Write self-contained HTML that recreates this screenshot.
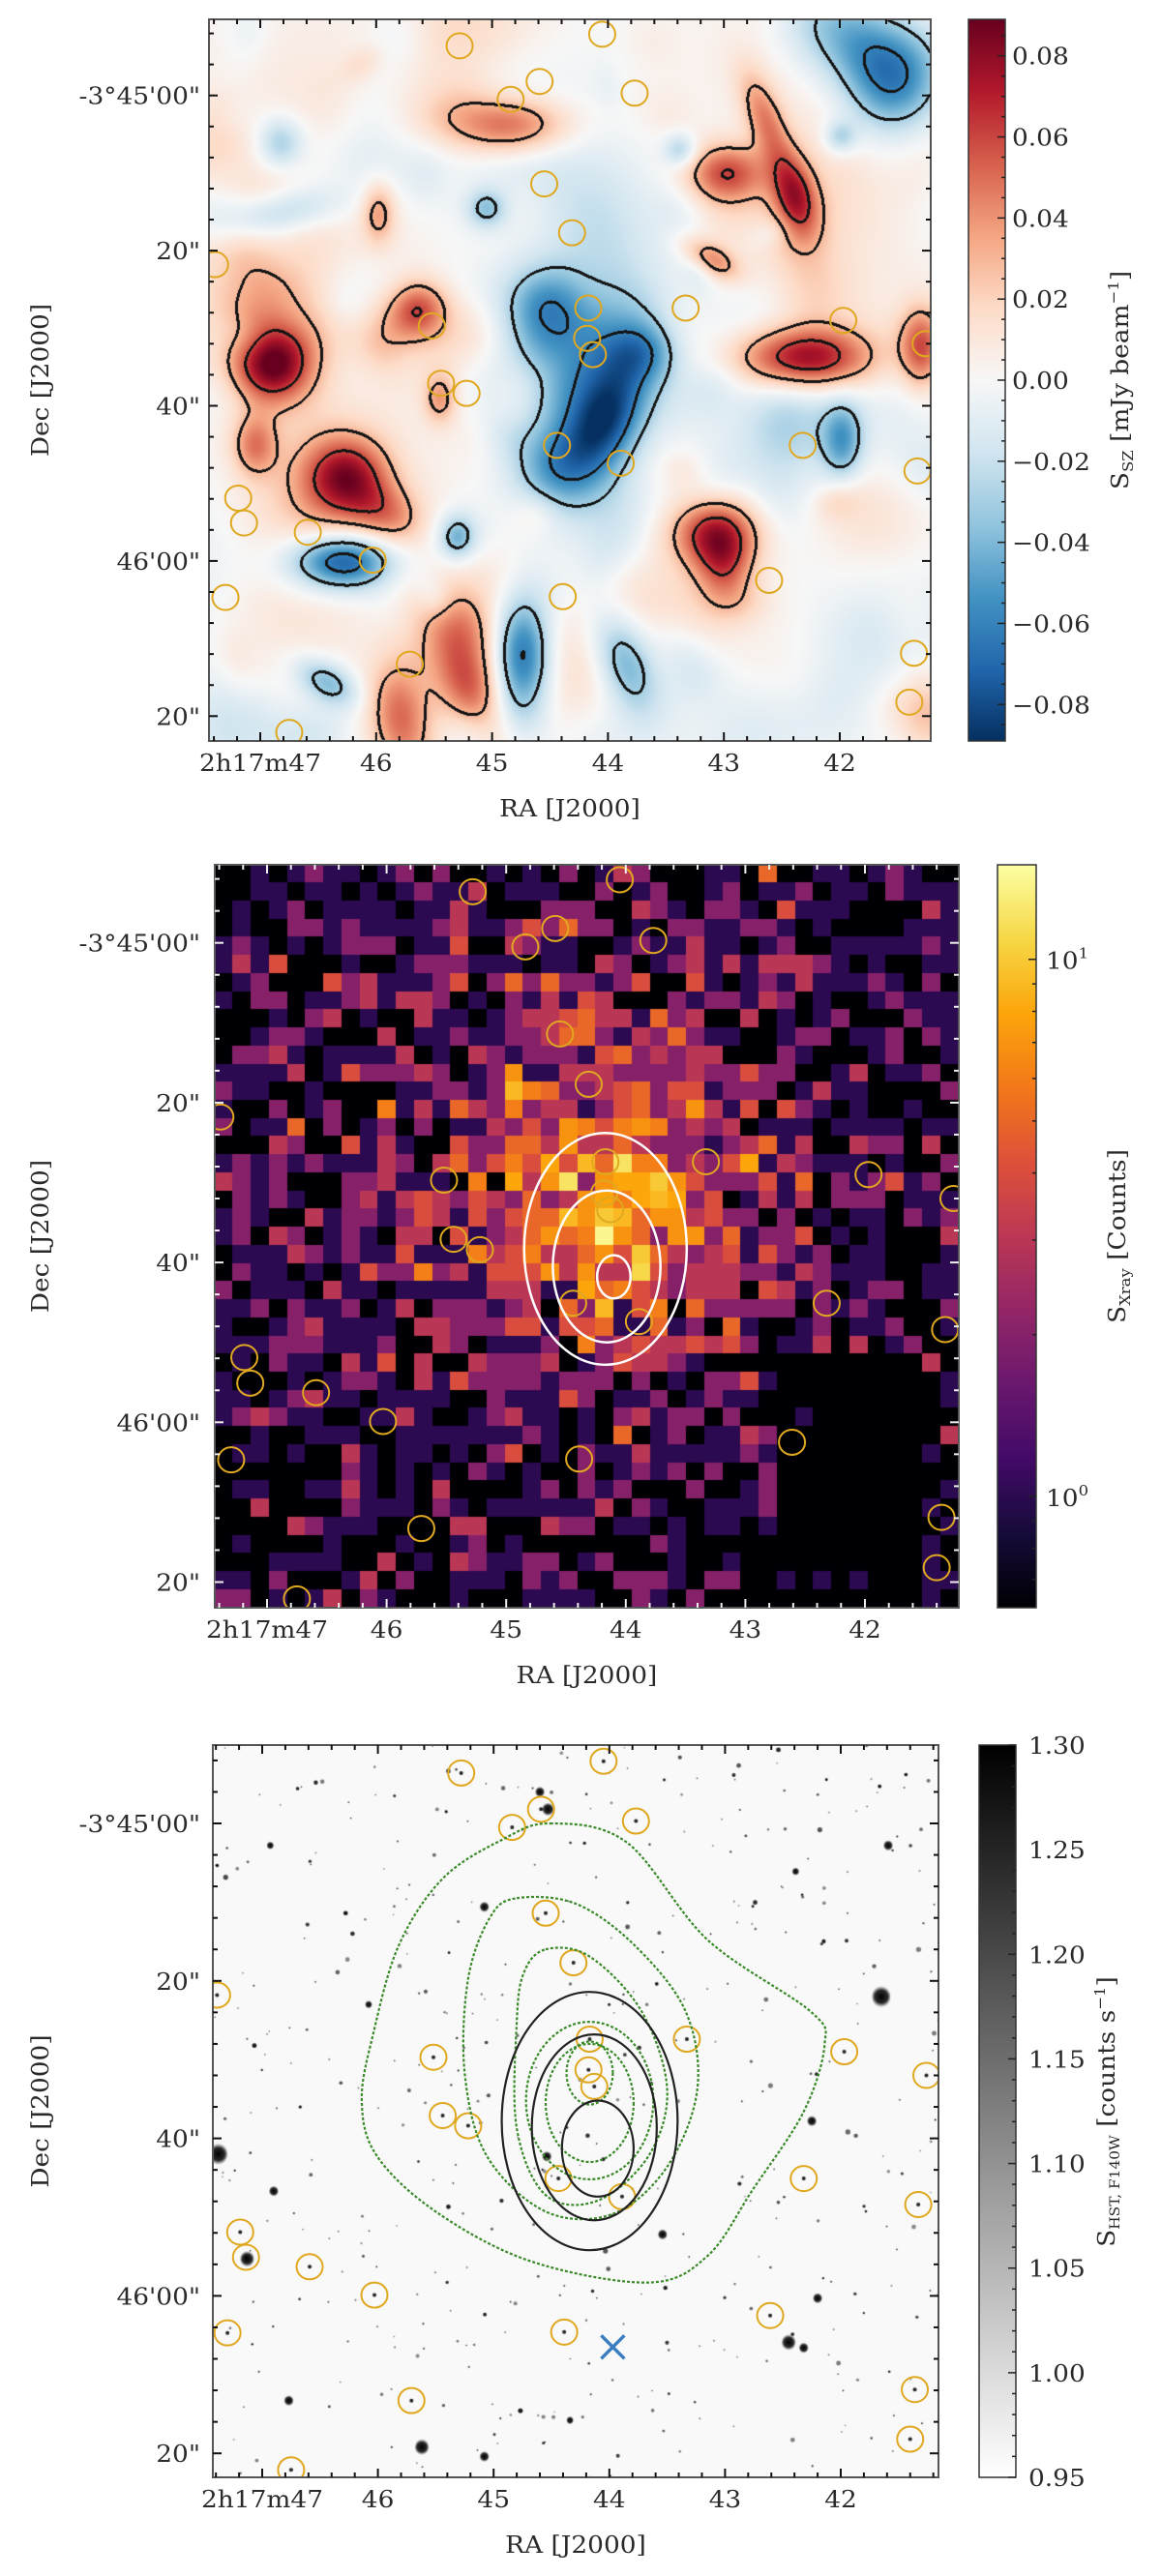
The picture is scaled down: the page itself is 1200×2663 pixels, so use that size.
<!DOCTYPE html>
<html><head><meta charset="utf-8">
<style>
html,body{margin:0;padding:0;background:#fff;}
#wrap{position:relative;width:1200px;height:2663px;overflow:hidden;}
canvas{position:absolute;}
svg{position:absolute;left:0;top:0;}
text{font-family:"DejaVu Serif","Liberation Serif",serif;font-size:24px;fill:#2a2a2a;}
</style></head>
<body>
<div id="wrap">
<canvas id="c1"></canvas>
<canvas id="c2"></canvas>
<canvas id="c3"></canvas>
<svg id="svg" width="1200" height="2663" xmlns="http://www.w3.org/2000/svg">
<defs>
<linearGradient id="gRdBu" x1="0" y1="1" x2="0" y2="0">
<stop offset="0" stop-color="#053061"/><stop offset="0.1" stop-color="#2166ac"/><stop offset="0.2" stop-color="#4393c3"/><stop offset="0.3" stop-color="#92c5de"/><stop offset="0.4" stop-color="#d1e5f0"/><stop offset="0.5" stop-color="#f7f7f7"/><stop offset="0.6" stop-color="#fddbc7"/><stop offset="0.7" stop-color="#f4a582"/><stop offset="0.8" stop-color="#d6604d"/><stop offset="0.9" stop-color="#b2182b"/><stop offset="1" stop-color="#67001f"/>
</linearGradient>
<linearGradient id="gInf" x1="0" y1="1" x2="0" y2="0">
<stop offset="0" stop-color="#000004"/><stop offset="0.1" stop-color="#160b39"/><stop offset="0.2" stop-color="#420a68"/><stop offset="0.3" stop-color="#6a176e"/><stop offset="0.4" stop-color="#932667"/><stop offset="0.5" stop-color="#bc3754"/><stop offset="0.6" stop-color="#dd513a"/><stop offset="0.7" stop-color="#f37819"/><stop offset="0.8" stop-color="#fca50a"/><stop offset="0.9" stop-color="#f6d746"/><stop offset="1" stop-color="#fcffa4"/>
</linearGradient>
<linearGradient id="gGray" x1="0" y1="1" x2="0" y2="0">
<stop offset="0" stop-color="#ffffff"/><stop offset="1" stop-color="#000000"/>
</linearGradient>
</defs>
</svg>
</div>
<script>
// ---------------- data ----------------
const raTicks = [47, 46, 45, 44, 43, 42];
const raTickLabels = ["2h17m47", "46", "45", "44", "43", "42"];
const decTicks = [0, 20, 40, 60, 80];
const decTickLabels = ["-3\u00b045'00\"", "20\"", "40\"", "46'00\"", "20\""];
// galaxy members (ra seconds, dec arcsec below -3d45m00s)
const memberRA = [45.28,44.05,44.59,44.84,43.77,44.55,44.31,47.39,44.17,43.33,45.52,41.97,41.26,44.18,44.13,45.44,45.22,44.44,43.89,42.32,41.33,47.19,47.14,46.59,46.03,47.30,44.39,42.61,45.71,41.36,41.40,46.75];
const memberDec = [-6.4,-7.9,-1.8,0.5,-0.3,11.4,17.7,21.8,27.4,27.4,29.7,29.0,32.0,31.3,33.4,37.1,38.4,45.1,47.4,45.1,48.4,51.9,55.1,56.3,59.9,64.7,64.6,62.5,73.3,71.9,78.2,82.1];
// SZ blobs: ra, dec, amplitude (mJy/beam), sigma ra (arcsec), sigma dec (arcsec), rotation (deg)
const szRA  = [44.2,44.55,43.7,44.5,44.05,46.9,42.32,46.26,45.9,43.09,43.0,46.3,44.74,43.85,44.87,43.0,42.65,42.39,46.81,41.5,45.21,45.79,46.43,45.63,41.98,41.3,47.05,45.98,45.45,45.05,43.38,46.83,42.0,45.3,43.12,46.6,42.5,45.5,44.5,42.8,41.5,47.3,41.9,46.5];
const szDec = [37,27,33,48,42,34.5,33.8,49,54,56.3,61,60,72,73,3.8,10,3,13,15,-1.5,76,80.5,75.5,27.4,44.5,32.7,45,15,39,14.5,7,6,5.3,57,21,20,20,70,15,45,70,60,-8,52];
const szAmp = [-0.036,-0.03,-0.03,-0.028,-0.06,0.075,0.08,0.065,0.035,0.068,0.042,-0.08,-0.075,-0.048,0.055,0.048,0.04,0.062,-0.045,-0.05,0.048,0.048,-0.04,0.045,-0.045,0.05,0.04,0.035,0.035,-0.035,-0.03,-0.03,-0.03,-0.03,0.04,0.016,0.016,0.016,-0.012,-0.012,-0.01,-0.01,-0.03,0.02];
const szSx  = [8,3.5,3.5,3.5,3.2,3.5,6,3.8,3.5,4,2.6,4.5,2.6,2.6,5.5,3.6,1.7,2,4.5,4,2.8,2.8,3.2,2.5,1.9,1.9,2,1.5,1.5,1.8,1.5,2,1.5,1.5,2.8,12,10,15,10,8,8,8,6,6];
const szSy  = [11,3.5,2.8,3.5,6,3.5,2.8,3.6,2.6,3.2,3.6,2.5,5,5,2.6,2.6,4.5,4,2.2,5,5,5.5,1.8,2.5,3.6,3.6,2.8,2.8,2.3,1.8,1.5,2.3,1.5,1.8,1.4,20,20,6,12,8,8,8,4,6];
const szRot = [0,0,0,0,25,45,0,0,30,0,0,0,0,-20,0,0,-20,-15,-10,30,-20,-10,30,0,0,0,0,0,0,0,0,0,0,0,30,0,0,0,0,0,0,0,40,0];
// X-ray emission model components
const xrRA = [44.3, 44.2];
const xrDec = [28, 34];
const xrAmp = [2.4, 5];
const xrSig = [21, 8];
const xrBackground = 0.6;
// contours
const xwRA = [44.17, 44.16, 44.1];
const xwDec = [38.3, 40.5, 41.8];
const xwRx = [0.68, 0.45, 0.14];
const xwRy = [14.5, 9.5, 2.7];
const xbRA = [44.17, 44.13, 44.10];
const xbDec = [37.8, 38.6, 41.3];
const xbRx = [0.76, 0.54, 0.31];
const xbRy = [16.4, 11.8, 6.1];
const g1RA = [44.51,43.85,43.15,42.26,42.14,42.32,42.76,43.15,43.66,44.68,45.50,46.01,46.14,46.04,45.82,45.44,44.93];
const g1Dec = [0,2.4,14.8,23.9,28.1,36.6,46.5,54.9,58.3,55.6,49.3,42.2,35.2,26.7,15.5,7.0,2.1];
const g2RA = [44.80,44.29,43.78,43.34,43.24,43.50,43.97,44.55,45.06,45.25,45.22,45.03];
const g2Dec = [9.5,10.2,15.5,23.9,33.8,43.6,49.6,49.3,42.2,31.7,19.7,11.9];
const g3RA = [44.55,44.17,43.72,43.50,43.66,44.10,44.55,44.80,44.80,44.74];
const g3Dec = [16.0,16.9,23.9,33.8,42.2,47.9,47.2,38.7,25.3,19.0];
const geRA = [44.17, 44.17, 44.17];
const geDec = [35.2, 35.5, 31.7];
const geRx = [0.55, 0.38, 0.2];
const geRy = [10, 7.5, 4];
// bright HST galaxies
const galRA = [41.65,47.38,47.13,46.9,44.53,42.2,42.45,42.32,45.62,45.08,41.59,46.93,42.25,46.77,44.34,43.54,46.08,45.08,44.54,42.39,44.6];
const galDec = [22,42,55.3,46.7,-1.8,60.3,65.9,66.6,79.2,80.4,2.8,2.8,37.8,73.3,75.8,52.2,23,10.6,42.3,6.1,-4];
const galR = [8,8,6,4,5,4,6,4,6,4,4,3,4,4,3,4,3,4,4,3,4];
const bcgRA = [43.97];
const bcgDec = [66.5];

// ---------------- panels ----------------
const P = [
 {L:216,R:962,T:20,B:766, x47:269, sx:119.8, y0:98.7, sy:8.02},
 {L:222,R:991,T:894,B:1662, x47:276, sx:123.6, y0:974.7, sy:8.26},
 {L:220,R:970,T:1804,B:2561, x47:271, sx:119.6, y0:1885, sy:8.14}
];
const X = (p, ra) => p.x47 + (47 - ra) * p.sx;
const Y = (p, d) => p.y0 + d * p.sy;
const invRA = (p, x) => 47 - (x - p.x47) / p.sx;
const invD = (p, y) => (y - p.y0) / p.sy;

const svg = document.getElementById('svg');
const NS = 'http://www.w3.org/2000/svg';
function mk(tag, attrs, parent) {
  const e = document.createElementNS(NS, tag);
  for (const k in attrs) e.setAttribute(k, attrs[k]);
  (parent || svg).appendChild(e);
  return e;
}
function txt(x, y, s, anchor, parent, rot) {
  const t = mk('text', {'text-anchor': anchor || 'middle',
    transform: 'translate(' + x + ',' + y + ')' + (rot ? ' rotate(' + rot + ')' : '') + ' scale(1.1,1)'}, parent);
  t.textContent = s;
  return t;
}
function hash(i, j, s) { const v = Math.sin(i * 127.1 + j * 311.7 + s * 74.7) * 43758.5453; return v - Math.floor(v); }
function lerpStops(stops, t) {
  t = Math.max(0, Math.min(1, t));
  const n = stops.length - 1, f = t * n, i = Math.min(n - 1, Math.floor(f)), u = f - i;
  const a = stops[i], b = stops[i + 1];
  return [a[0] + (b[0] - a[0]) * u, a[1] + (b[1] - a[1]) * u, a[2] + (b[2] - a[2]) * u];
}
const RDBU = [[5,48,97],[33,102,172],[67,147,195],[146,197,222],[209,229,240],[247,247,247],[253,219,199],[244,165,130],[214,96,77],[178,24,43],[103,0,31]];
const INF = [[0,0,4],[22,11,57],[66,10,104],[106,23,110],[147,38,103],[188,55,84],[221,81,58],[243,120,25],[252,165,10],[246,215,70],[252,255,164]];

// ---------------- Panel 1: SZ map ----------------
(function(){
  const p = P[0], w = p.R - p.L, h = p.B - p.T;
  const c = document.getElementById('c1');
  c.width = w; c.height = h; c.style.left = p.L + 'px'; c.style.top = p.T + 'px';
  const ctx = c.getContext('2d');
  const F = new Float32Array(w * h);
  function addBlob(ra, d, A, sxa, sya, rot) {
    const cx = X(p, ra) - p.L, cy = Y(p, d) - p.T;
    const sxp = sxa * p.sy, syp = sya * p.sy;
    const a = rot * Math.PI / 180, ca = Math.cos(a), sa = Math.sin(a);
    const ext = 3.5 * Math.max(sxp, syp);
    const x0 = Math.max(0, Math.floor(cx - ext)), x1 = Math.min(w, Math.ceil(cx + ext));
    const y0 = Math.max(0, Math.floor(cy - ext)), y1 = Math.min(h, Math.ceil(cy + ext));
    for (let y = y0; y < y1; y++) for (let x = x0; x < x1; x++) {
      const dx = x - cx, dy = y - cy;
      const u = dx * ca + dy * sa, v = -dx * sa + dy * ca;
      F[y * w + x] += A * Math.exp(-0.5 * (u * u / (sxp * sxp) + v * v / (syp * syp)));
    }
  }
  for (let k = 0; k < szRA.length; k++) addBlob(szRA[k], szDec[k], szAmp[k], szSx[k], szSy[k], szRot[k]);
  // low-level noise texture
  for (let n = 0; n < 160; n++) {
    const ra = 47.45 - hash(n, 11, 1) * 6.3, d = -10 + hash(n, 12, 2) * 94;
    const A = (hash(n, 13, 3) - 0.5) * 0.03;
    const s = 2 + hash(n, 14, 4) * 3;
    addBlob(ra, d, A, s, s * (0.6 + hash(n, 15, 5) * 0.8), hash(n, 16, 6) * 180);
  }
  const img = ctx.createImageData(w, h);
  const levels = [-0.06, -0.03, 0.03, 0.06];
  const mark = new Uint8Array(w * h);
  for (let y = 1; y < h - 1; y++) for (let x = 1; x < w - 1; x++) {
    const i = y * w + x;
    for (const L of levels) {
      const a = F[i] - L, b = F[i + 1] - L, d = F[i + w] - L;
      if (a * b < 0 || a * d < 0) { mark[i] = 1; mark[i + 1] = 1; mark[i + w] = 1; mark[i - 1] = 1; mark[i - w] = 1; }
    }
  }
  for (let i = 0; i < w * h; i++) {
    let col;
    if (mark[i]) col = [20, 20, 20];
    else col = lerpStops(RDBU, (F[i] + 0.089) / 0.178);
    img.data[i * 4] = col[0]; img.data[i * 4 + 1] = col[1]; img.data[i * 4 + 2] = col[2]; img.data[i * 4 + 3] = 255;
  }
  ctx.putImageData(img, 0, 0);
})();

// ---------------- Panel 2: X-ray ----------------
(function(){
  const p = P[1], w = p.R - p.L, h = p.B - p.T, N = 41;
  const c = document.getElementById('c2');
  c.width = w; c.height = h; c.style.left = p.L + 'px'; c.style.top = p.T + 'px';
  const ctx = c.getContext('2d');
  const cw = w / N, ch = h / N;
  const lmin = Math.log10(0.62), lmax = Math.log10(15);
  for (let j = 0; j < N; j++) for (let i = 0; i < N; i++) {
    const ra = invRA(p, p.L + (i + 0.5) * cw), d = invD(p, p.T + (j + 0.5) * ch);
    let m = xrBackground;
    for (let k = 0; k < xrRA.length; k++) {
      const dx = (ra - xrRA[k]) * 15, dy = d - xrDec[k];
      m += xrAmp[k] * Math.exp(-(dx * dx + dy * dy) / (2 * xrSig[k] * xrSig[k]));
    }
    if (ra < 42.7 && d > 52 && ra > 41.45) m = 0.03;
    const u = hash(i, j, 3);
    let k = 0, pr = Math.exp(-m), cdf = pr;
    while (u > cdf && k < 30) { k++; pr *= m / k; cdf += pr; }
    let col;
    if (k === 0) col = [0, 0, 4];
    else col = lerpStops(INF, (Math.log10(k) - lmin) / (lmax - lmin));
    ctx.fillStyle = 'rgb(' + col.map(Math.round).join(',') + ')';
    ctx.fillRect(Math.floor(i * cw), Math.floor(j * ch), Math.ceil(cw) + 1, Math.ceil(ch) + 1);
  }
})();

// ---------------- Panel 3: HST ----------------
(function(){
  const p = P[2], w = p.R - p.L, h = p.B - p.T;
  const c = document.getElementById('c3');
  c.width = w; c.height = h; c.style.left = p.L + 'px'; c.style.top = p.T + 'px';
  const ctx = c.getContext('2d');
  ctx.fillStyle = '#f9f9f9'; ctx.fillRect(0, 0, w, h);
  for (let n = 0; n < 420; n++) {
    const x = hash(n, 1, 7) * w, y = hash(n, 2, 9) * h;
    const r = 0.8 + 1.8 * Math.pow(hash(n, 3, 5), 3);
    const g = Math.round(20 + 120 * hash(n, 4, 2));
    ctx.fillStyle = 'rgb(' + g + ',' + g + ',' + g + ')';
    ctx.beginPath(); ctx.arc(x, y, r, 0, 2 * Math.PI); ctx.fill();
  }
  for (let k = 0; k < memberRA.length; k++) {
    ctx.fillStyle = '#222';
    ctx.beginPath(); ctx.arc(X(p, memberRA[k]) - p.L, Y(p, memberDec[k]) - p.T, 2, 0, 2 * Math.PI); ctx.fill();
  }
  for (let k = 0; k < galRA.length; k++) {
    const x = X(p, galRA[k]) - p.L, y = Y(p, galDec[k]) - p.T, r = galR[k];
    const gr = ctx.createRadialGradient(x, y, 0, x, y, r * 1.4);
    gr.addColorStop(0, 'rgba(0,0,0,1)'); gr.addColorStop(0.6, 'rgba(20,20,20,0.9)'); gr.addColorStop(1, 'rgba(80,80,80,0)');
    ctx.fillStyle = gr;
    ctx.beginPath(); ctx.ellipse(x, y, r * 1.4 * 0.85, r * 1.4, 0, 0, 2 * Math.PI); ctx.fill();
  }
})();

// ---------------- overlays ----------------
function circles(p, name) {
  const g = mk('g', {});
  
  
  for (let k = 0; k < memberRA.length; k++) {
    const x = X(p, memberRA[k]), y = Y(p, memberDec[k]);
    const e = mk('ellipse', {cx: x, cy: y, rx: 13.5, ry: 13, fill: 'none', stroke: '#e0a820', 'stroke-width': 2}, g);
    
    
  }
  return g;
}
function clip(p, id) {
  const cp = mk('clipPath', {id: id});
  mk('rect', {x: p.L, y: p.T, width: p.R - p.L, height: p.B - p.T}, cp);
}
function smoothPath(p, ras, decs) {
  const pts = ras.map((r, i) => [X(p, r), Y(p, decs[i])]);
  const n = pts.length; let d = '';
  for (let i = 0; i < n; i++) {
    const p0 = pts[(i - 1 + n) % n], p1 = pts[i], p2 = pts[(i + 1) % n], p3 = pts[(i + 2) % n];
    if (i === 0) d += 'M' + p1[0].toFixed(1) + ',' + p1[1].toFixed(1);
    const c1 = [p1[0] + (p2[0] - p0[0]) / 6, p1[1] + (p2[1] - p0[1]) / 6];
    const c2 = [p2[0] - (p3[0] - p1[0]) / 6, p2[1] - (p3[1] - p1[1]) / 6];
    d += 'C' + c1.map(v => v.toFixed(1)).join(',') + ' ' + c2.map(v => v.toFixed(1)).join(',') + ' ' + p2.map(v => v.toFixed(1)).join(',');
  }
  return d + 'Z';
}
function axes(p, idx, tickColor) {
  const g = mk('g', {});
  
  
  mk('rect', {x: p.L, y: p.T, width: p.R - p.L, height: p.B - p.T, fill: 'none', stroke: '#555', 'stroke-width': 2}, g);
  for (let ra = 47.4; ra >= 41.0; ra -= 0.2) {
    const x = X(p, ra); if (x < p.L + 1 || x > p.R - 1) continue;
    const maj = Math.abs(ra - Math.round(ra)) < 0.01, L = maj ? 9 : 5;
    mk('line', {x1: x, y1: p.B, x2: x, y2: p.B - L, stroke: tickColor, 'stroke-width': 2}, g);
    mk('line', {x1: x, y1: p.T, x2: x, y2: p.T + L, stroke: tickColor, 'stroke-width': 2}, g);
  }
  for (let d = -12; d <= 88; d += 4) {
    const y = Y(p, d); if (y < p.T + 1 || y > p.B - 1) continue;
    const maj = d % 20 === 0, L = maj ? 9 : 5;
    mk('line', {x1: p.L, y1: y, x2: p.L + L, y2: y, stroke: tickColor, 'stroke-width': 2}, g);
    mk('line', {x1: p.R, y1: y, x2: p.R - L, y2: y, stroke: tickColor, 'stroke-width': 2}, g);
  }
  raTicks.forEach((ra, i) => {
    const t = txt(X(p, ra), p.B + 31, raTickLabels[i], 'middle', g);
    
    
  });
  decTicks.forEach((d, i) => {
    const t = txt(207, Y(p, d) + 9, decTickLabels[i], 'end', g);
    
    
  });
  const xl = txt((p.L + p.R) / 2, p.B + 78, 'RA [J2000]', 'middle', g);
  
  
  const yl = txt(50, (p.T + p.B) / 2, 'Dec [J2000]', 'middle', g, -90);
  
  
}

clip(P[0], 'cp1');
const o1 = mk('g', {'clip-path': 'url(#cp1)'}); o1.appendChild(circles(P[0], 'sz-member-circles'));
axes(P[0], 1, '#111');
clip(P[1], 'cp2');
const o2 = mk('g', {'clip-path': 'url(#cp2)'});
o2.appendChild(circles(P[1], 'xray-member-circles'));
for (let k = 0; k < xwRA.length; k++) {
  const e = mk('ellipse', {cx: X(P[1], xwRA[k]), cy: Y(P[1], xwDec[k]), rx: xwRx[k] * P[1].sx, ry: xwRy[k] * P[1].sy, fill: 'none', stroke: '#fff', 'stroke-width': 2.5}, o2);
  
  
}
axes(P[1], 2, '#eee');
clip(P[2], 'cp3');
const o3 = mk('g', {'clip-path': 'url(#cp3)'});
o3.appendChild(circles(P[2], 'hst-member-circles'));
[[g1RA, g1Dec], [g2RA, g2Dec], [g3RA, g3Dec]].forEach(a => {
  const e = mk('path', {d: smoothPath(P[2], a[0], a[1]), fill: 'none', stroke: '#3a8a2a', 'stroke-width': 2.2, 'stroke-dasharray': '3,2'}, o3);
  
  
});
for (let k = 0; k < geRA.length; k++) {
  const e = mk('ellipse', {cx: X(P[2], geRA[k]), cy: Y(P[2], geDec[k]), rx: geRx[k] * P[2].sx, ry: geRy[k] * P[2].sy, fill: 'none', stroke: '#3a8a2a', 'stroke-width': 2.2, 'stroke-dasharray': '3,2'}, o3);
  
  
}
for (let k = 0; k < xbRA.length; k++) {
  const e = mk('ellipse', {cx: X(P[2], xbRA[k]), cy: Y(P[2], xbDec[k]), rx: xbRx[k] * P[2].sx, ry: xbRy[k] * P[2].sy, fill: 'none', stroke: '#222', 'stroke-width': 2.2}, o3);
  
  
}
for (let k = 0; k < bcgRA.length; k++) {
  const x = X(P[2], bcgRA[k]), y = Y(P[2], bcgDec[k]);
  const m = mk('path', {d: 'M' + (x - 12) + ',' + (y - 12) + 'L' + (x + 12) + ',' + (y + 12) + 'M' + (x + 12) + ',' + (y - 12) + 'L' + (x - 12) + ',' + (y + 12), stroke: '#3a7dc0', 'stroke-width': 3.5}, o3);
  
  
}
axes(P[2], 3, '#111');

// ---------------- colorbars ----------------
const cbSZTicks = [-0.08, -0.06, -0.04, -0.02, 0, 0.02, 0.04, 0.06, 0.08];
const cbXTicks = [1, 10];
const cbHTicks = [0.95, 1.00, 1.05, 1.10, 1.15, 1.20, 1.25, 1.30];
function colorbar(x0, x1, T, B, grad, name) {
  const g = mk('g', {});
  
  
  mk('rect', {x: x0, y: T, width: x1 - x0, height: B - T, fill: 'url(#' + grad + ')', stroke: '#333', 'stroke-width': 1.5}, g);
  return g;
}
(function(){
  const x0 = 1001, x1 = 1039, T = 20, B = 766, vmin = -0.089, vmax = 0.089;
  const g = colorbar(x0, x1, T, B, 'gRdBu', 'sz-colorbar');
  const yv = v => B - (v - vmin) / (vmax - vmin) * (B - T);
  for (let v = -0.085; v <= 0.0851; v += 0.005) {
    const maj = Math.abs(v / 0.02 - Math.round(v / 0.02)) < 0.01;
    mk('line', {x1: x1, y1: yv(v), x2: x1 - (maj ? 8 : 4), y2: yv(v), stroke: '#222', 'stroke-width': 1.5}, g);
  }
  cbSZTicks.forEach(v => {
    const t = txt(1046, yv(v) + 9, (v < 0 ? '\u2212' : '') + Math.abs(v).toFixed(2), 'start', g);
    
    
  });
  const t = mk('text', {'text-anchor': 'middle', transform: 'translate(1166,393) rotate(-90) scale(1.1,1)'}, g);
  t.innerHTML = 'S<tspan font-size="15" dy="5">SZ</tspan><tspan dy="-5"> [mJy beam</tspan><tspan font-size="15" dy="-10">\u22121</tspan><tspan dy="10">]</tspan>';
  
  
})();
(function(){
  const x0 = 1031, x1 = 1071, T = 894, B = 1662, lmin = Math.log10(0.62), lmax = Math.log10(15);
  const g = colorbar(x0, x1, T, B, 'gInf', 'xray-colorbar');
  const yv = v => B - (Math.log10(v) - lmin) / (lmax - lmin) * (B - T);
  [0.7, 0.8, 0.9, 2, 3, 4, 5, 6, 7, 8, 9].forEach(v => mk('line', {x1: x1, y1: yv(v), x2: x1 - 4, y2: yv(v), stroke: '#222', 'stroke-width': 1.5}, g));
  cbXTicks.forEach(v => {
    mk('line', {x1: x1, y1: yv(v), x2: x1 - 8, y2: yv(v), stroke: '#222', 'stroke-width': 1.5}, g);
    const t = mk('text', {'text-anchor': 'start', transform: 'translate(1081,' + (yv(v) + 10) + ') scale(1.1,1)'}, g);
    t.innerHTML = '10<tspan font-size="15" dy="-11">' + Math.round(Math.log10(v)) + '</tspan>';
    
    
  });
  const t = mk('text', {'text-anchor': 'middle', transform: 'translate(1163,1278) rotate(-90) scale(1.1,1)'}, g);
  t.innerHTML = 'S<tspan font-size="15" dy="5">Xray</tspan><tspan dy="-5"> [Counts]</tspan>';
  
  
})();
(function(){
  const x0 = 1012, x1 = 1050, T = 1804, B = 2561, vmin = 0.95, vmax = 1.30;
  const g = colorbar(x0, x1, T, B, 'gGray', 'hst-colorbar');
  const yv = v => B - (v - vmin) / (vmax - vmin) * (B - T);
  for (let v = 0.95; v <= 1.3001; v += 0.01) {
    const maj = Math.abs(v / 0.05 - Math.round(v / 0.05)) < 0.01;
    mk('line', {x1: x1, y1: yv(v), x2: x1 - (maj ? 8 : 4), y2: yv(v), stroke: '#222', 'stroke-width': 1.5}, g);
  }
  cbHTicks.forEach(v => {
    const t = txt(1063, yv(v) + 9, v.toFixed(2), 'start', g);
    
    
  });
  const t = mk('text', {'text-anchor': 'middle', transform: 'translate(1152,2183) rotate(-90) scale(1.1,1)'}, g);
  t.innerHTML = 'S<tspan font-size="14" dy="5">HST, F140W</tspan><tspan dy="-5"> [counts s</tspan><tspan font-size="15" dy="-10">\u22121</tspan><tspan dy="10">]</tspan>';
  
  
})();
</script>
</body></html>
